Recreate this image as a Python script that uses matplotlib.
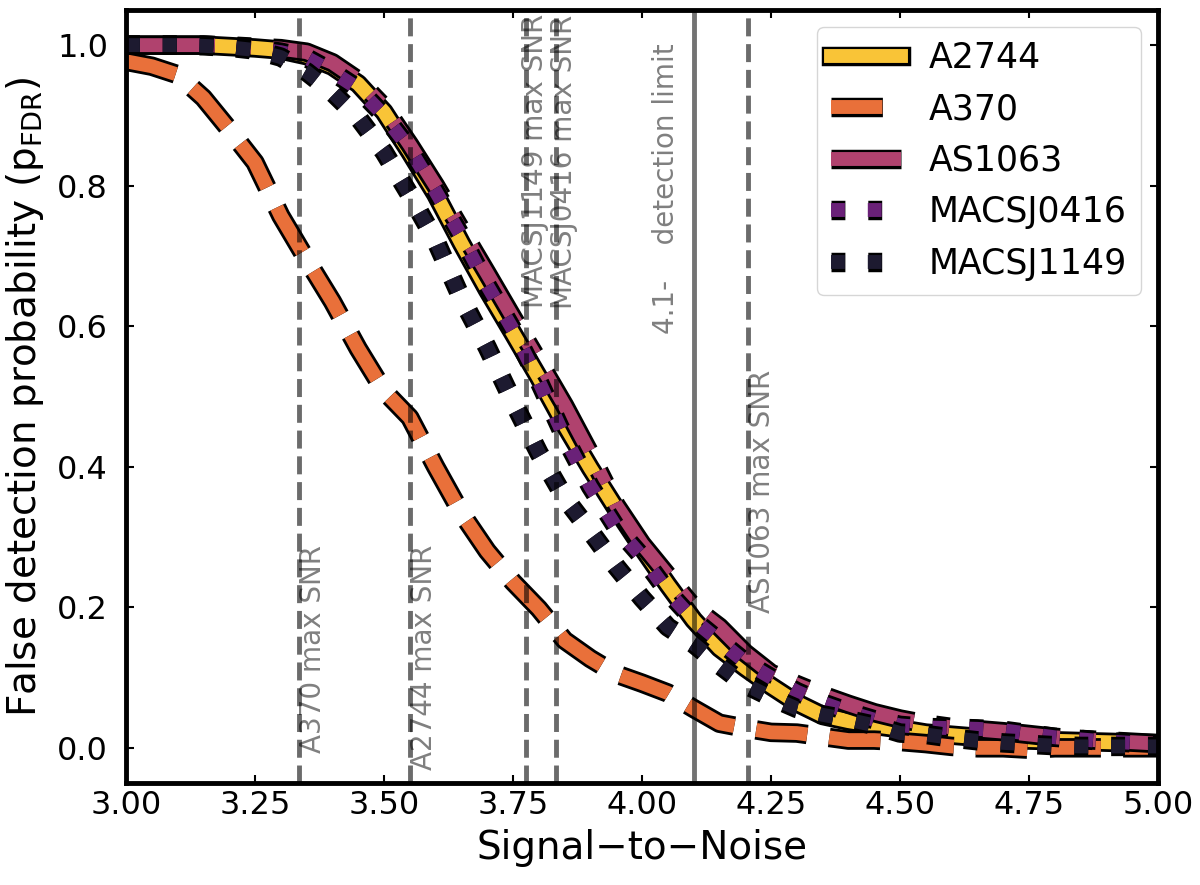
import numpy as np
import matplotlib
matplotlib.use('Agg')
import matplotlib.pyplot as plt
import matplotlib.patheffects as pe

# signal-to-noise grid and false detection probability per cluster
snr = [3.00, 3.05, 3.10, 3.15, 3.20, 3.25, 3.30, 3.35, 3.40, 3.45,
       3.50, 3.55, 3.60, 3.65, 3.70, 3.75, 3.80, 3.85, 3.90, 3.95,
       4.00, 4.05, 4.10, 4.15, 4.20, 4.25, 4.30, 4.35, 4.40, 4.45,
       4.50, 4.55, 4.60, 4.65, 4.70, 4.75, 4.80, 4.85, 4.90, 4.95, 5.00]

a2744 = [1.000, 1.000, 1.000, 1.000, 0.998, 0.996, 0.993, 0.985, 0.970, 0.945,
         0.905, 0.848, 0.788, 0.718, 0.652, 0.590, 0.527, 0.460, 0.398, 0.340,
         0.285, 0.232, 0.182, 0.142, 0.114, 0.088, 0.064, 0.046, 0.038, 0.032,
         0.027, 0.021, 0.018, 0.015, 0.013, 0.011, 0.010, 0.009, 0.008, 0.007, 0.006]

a370 = [0.977, 0.970, 0.958, 0.925, 0.880, 0.833, 0.757, 0.695, 0.635, 0.568,
        0.508, 0.470, 0.400, 0.334, 0.280, 0.236, 0.198, 0.153, 0.127, 0.105,
        0.092, 0.078, 0.056, 0.035, 0.028, 0.022, 0.021, 0.016, 0.011, 0.011,
        0.009, 0.006, 0.002, 0.000, 0.000, -0.002, 0.000, 0.000, 0.000, 0.000, 0.000]

as1063 = [1.000, 1.000, 1.000, 1.000, 0.999, 0.997, 0.995, 0.990, 0.975, 0.950,
          0.912, 0.858, 0.800, 0.737, 0.675, 0.612, 0.550, 0.487, 0.418, 0.345,
          0.290, 0.245, 0.200, 0.172, 0.135, 0.106, 0.090, 0.075, 0.062, 0.050,
          0.041, 0.034, 0.029, 0.026, 0.023, 0.019, 0.015, 0.012, 0.010, 0.008, 0.006]

macsj0416 = [1.000, 1.000, 1.000, 1.000, 0.998, 0.995, 0.990, 0.982, 0.962, 0.938,
             0.900, 0.852, 0.792, 0.728, 0.658, 0.595, 0.522, 0.442, 0.372, 0.314,
             0.272, 0.222, 0.182, 0.152, 0.122, 0.100, 0.080, 0.064, 0.051, 0.040,
             0.032, 0.029, 0.028, 0.027, 0.025, 0.020, 0.015, 0.012, 0.009, 0.007, 0.005]

macsj1149 = [1.000, 1.000, 1.000, 0.999, 0.997, 0.993, 0.983, 0.962, 0.933, 0.897,
             0.848, 0.787, 0.722, 0.640, 0.570, 0.493, 0.420, 0.356, 0.308, 0.258,
             0.213, 0.172, 0.148, 0.118, 0.090, 0.072, 0.056, 0.047, 0.040, 0.032,
             0.021, 0.019, 0.014, 0.010, 0.007, 0.005, 0.003, 0.002, 0.002, 0.002, 0.002]

names = ['A2744', 'A370', 'AS1063', 'MACSJ0416', 'MACSJ1149']
curves = [a2744, a370, as1063, macsj0416, macsj1149]
colors = ['#f9c437', '#e9703a', '#b0426e', '#6a2178', '#1d1a30']
styles = ['-', '--', '-.', ':', ':']

# max SNR of each cluster and where its label goes
max_names = ['A370', 'A2744', 'MACSJ1149', 'MACSJ0416', 'AS1063']
max_snr = [3.335, 3.550, 3.776, 3.834, 4.205]
label_x = [3.335, 3.550, 3.766, 3.822, 4.205]
label_y = [-0.007, -0.031, 0.626, 0.624, 0.192]
det_limit = 4.1

fig = plt.figure(figsize=(12, 8.85), dpi=100)
ax = fig.add_axes([0.105, 0.1153, 0.86, 0.8734])

outline = [pe.Stroke(linewidth=14, foreground='k'), pe.Normal()]
for name, y, c, ls in zip(names, curves, colors, styles):
    ax.plot(snr, y, ls=ls, color=c, lw=10, label=name, path_effects=outline)

for name, xv, tx, ty in zip(max_names, max_snr, label_x, label_y):
    ax.axvline(xv, color='k', alpha=0.58, ls='--', lw=3.5, zorder=4)
    ax.text(tx, ty, name + ' max SNR', rotation=90, ha='left', va='bottom',
            fontsize=20, color='k', alpha=0.5, zorder=4)

ax.axvline(det_limit, color='k', alpha=0.55, ls='-', lw=3.5, zorder=4)
ax.text(4.02, 0.589, '4.1-    detection limit', rotation=90, ha='left', va='bottom',
        fontsize=20, color='k', alpha=0.5, zorder=4)

ax.set_xlim(3, 5)
ax.set_ylim(-0.05, 1.05)
ax.set_xticks([3.0, 3.25, 3.5, 3.75, 4.0, 4.25, 4.5, 4.75, 5.0])
ax.tick_params(direction='in', length=6, width=1.5, top=True, right=True, labelsize=23)
ax.tick_params(axis='x', pad=5)
ax.tick_params(axis='y', pad=13)
for s in ax.spines.values():
    s.set_linewidth(3.5)

ax.set_xlabel('Signal\u2212to\u2212Noise', fontsize=28, labelpad=6)
ax.set_ylabel(r'False detection probability (p$_{\mathrm{FDR}}$)', fontsize=28, labelpad=8)
ax.legend(loc='upper right', fontsize=25)

fig.savefig('out.png', dpi=100)
